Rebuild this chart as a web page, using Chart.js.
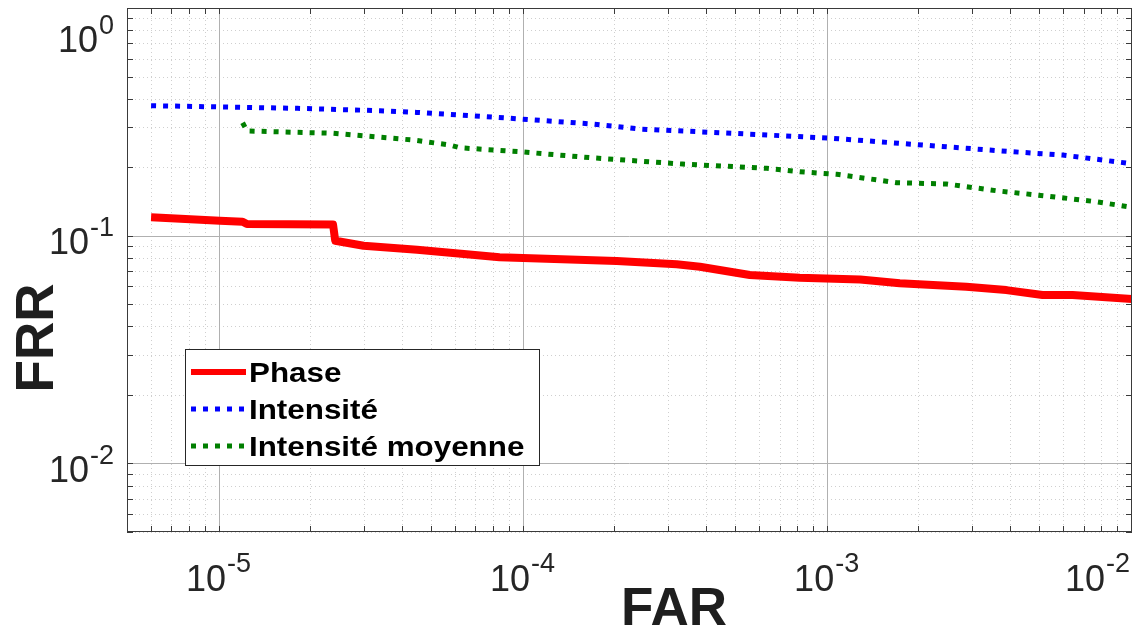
<!DOCTYPE html>
<html>
<head>
<meta charset="utf-8">
<script src="https://cdn.jsdelivr.net/npm/chart.js@4.4.0/dist/chart.umd.min.js"></script>
<style>html,body{margin:0;padding:0;background:#fff;}canvas{display:block;}</style>
</head>
<body>
<canvas id="c" width="1134" height="632"></canvas>
<script>
// ---- data ----
const seriesLabels = ['Phase', 'Intensité', 'Intensité moyenne'];

const phaseFAR = [6.0e-6, 1.01e-5, 1.20e-5, 1.24e-5, 2.38e-5, 2.42e-5, 3.0e-5, 4.5e-5, 8.4e-5, 2.04e-4, 3.21e-4, 3.83e-4, 5.59e-4, 8.16e-4, 1.29e-3, 1.74e-3, 2.88e-3, 3.90e-3, 5.13e-3, 6.44e-3, 1.01e-2];
const phaseFRR = [0.1204, 0.1164, 0.1152, 0.1125, 0.1120, 0.0951, 0.0904, 0.0868, 0.0804, 0.0774, 0.0749, 0.0731, 0.0672, 0.0654, 0.0643, 0.0618, 0.0597, 0.0577, 0.0549, 0.0549, 0.0527];

const intFAR = [6.0e-6, 1.82e-5, 3.40e-5, 4.48e-5, 9.08e-5, 1.70e-4, 2.43e-4, 4.91e-4, 1.047e-3, 1.92e-3, 4.09e-3, 5.97e-3, 7.73e-3, 1.01e-2];
const intFRR = [0.3724, 0.3626, 0.354, 0.348, 0.328, 0.3094, 0.294, 0.2817, 0.2678, 0.252, 0.2338, 0.2261, 0.2166, 0.207];

const moyFAR = [1.20e-5, 1.24e-5, 2.38e-5, 4.36e-5, 5.77e-5, 6.22e-5, 9.8e-5, 1.664e-4, 3.36e-4, 6.35e-4, 8.16e-4, 1.08e-3, 1.70e-3, 2.48e-3, 3.62e-3, 5.29e-3, 7.72e-3, 1.01e-2];
const moyFRR = [0.3135, 0.2884, 0.2818, 0.2632, 0.2502, 0.2434, 0.2338, 0.2202, 0.2064, 0.1977, 0.1910, 0.1861, 0.1709, 0.1687, 0.1576, 0.1494, 0.1410, 0.1332];

const xRange = [5e-6, 0.0101];
const yRange = [0.005, 1];
const xMajorTicks = [1e-5, 1e-4, 1e-3, 1e-2];
const xTickExponents = ['-5', '-4', '-3', '-2'];
const yMajorTicks = [1e-2, 1e-1, 1];
const yTickExponents = ['-2', '-1', '0'];
const xAxisTitle = 'FAR';
const yAxisTitle = 'FRR';

// ---- helpers ----
const FONT = '"Liberation Sans", Arial, Helvetica, sans-serif';
const pairs = (xs, ys) => xs.map((v, i) => ({ x: v, y: ys[i] }));

function logTicks(min, max) {
  const out = [];
  for (let e = Math.floor(Math.log10(min)); e <= Math.ceil(Math.log10(max)); e++) {
    for (let m = 1; m < 10; m++) {
      const v = m * Math.pow(10, e);
      if (v >= min * 0.9999 && v <= max * 1.0001) out.push({ v, major: m === 1 });
    }
  }
  return out;
}

function seg(ctx, x1, y1, x2, y2) {
  ctx.beginPath(); ctx.moveTo(x1, y1); ctx.lineTo(x2, y2); ctx.stroke();
}

const datasetStyles = [
  { borderColor: '#ff0000', borderWidth: 8, borderDash: [], borderCapStyle: 'butt', borderJoinStyle: 'round' },
  { borderColor: '#0000ff', borderWidth: 5, borderDash: [5, 7], borderCapStyle: 'butt', borderJoinStyle: 'miter' },
  { borderColor: '#007f00', borderWidth: 5, borderDash: [5, 7], borderCapStyle: 'butt', borderJoinStyle: 'miter' }
];

const axesPlugin = {
  id: 'matlabAxes',
  beforeDatasetsDraw(chart) {
    const { ctx, chartArea: a, scales: { x, y } } = chart;
    ctx.save();
    ctx.lineWidth = 1;
    // minor grid (dotted)
    ctx.strokeStyle = '#cfcfcf';
    ctx.setLineDash([1, 3]);
    for (const t of logTicks(x.min, x.max)) if (!t.major) {
      const p = Math.round(x.getPixelForValue(t.v)) + 0.5; seg(ctx, p, a.top, p, a.bottom);
    }
    for (const t of logTicks(y.min, y.max)) if (!t.major) {
      const p = Math.round(y.getPixelForValue(t.v)) + 0.5; seg(ctx, a.left, p, a.right, p);
    }
    // major grid (solid)
    ctx.setLineDash([]);
    ctx.strokeStyle = '#b0b0b0';
    for (const v of xMajorTicks) {
      const p = Math.round(x.getPixelForValue(v)) + 0.5;
      if (p > a.left + 1 && p < a.right - 1) seg(ctx, p, a.top, p, a.bottom);
    }
    for (const v of yMajorTicks) {
      const p = Math.round(y.getPixelForValue(v)) + 0.5;
      if (p > a.top + 1 && p < a.bottom - 1) seg(ctx, a.left, p, a.right, p);
    }
    ctx.restore();
  },
  afterDatasetsDraw(chart) {
    const { ctx, chartArea: a, scales: { x, y } } = chart;
    ctx.save();
    // box
    ctx.strokeStyle = '#3a3a3a';
    ctx.lineWidth = 1;
    ctx.setLineDash([]);
    ctx.strokeRect(a.left + 0.5, a.top + 0.5, a.right - a.left - 1, a.bottom - a.top - 1);
    // inward ticks on all four sides
    const TL = 6;
    for (const t of logTicks(x.min, x.max)) {
      const p = Math.round(x.getPixelForValue(t.v)) + 0.5;
      seg(ctx, p, a.bottom, p, a.bottom - TL);
      seg(ctx, p, a.top, p, a.top + TL);
    }
    for (const t of logTicks(y.min, y.max)) {
      const p = Math.round(y.getPixelForValue(t.v)) + 0.5;
      seg(ctx, a.left, p, a.left + TL, p);
      seg(ctx, a.right, p, a.right - TL, p);
    }

    // tick labels: 10^n
    const baseFont = '36px ' + FONT;
    const supFont = '27px ' + FONT;
    ctx.fillStyle = '#262626';
    ctx.textBaseline = 'alphabetic';
    ctx.textAlign = 'left';
    const W = chart.width;
    xMajorTicks.forEach((v, i) => {
      const p = x.getPixelForValue(v);
      ctx.font = baseFont; const w10 = ctx.measureText('10').width;
      ctx.font = supFont; const we = ctx.measureText(xTickExponents[i]).width;
      const gw = w10 + 1 + we;
      let left = p - gw / 2;
      if (left + gw > W - 4) left = W - 4 - gw;
      ctx.font = baseFont; ctx.fillText('10', left, a.bottom + 59);
      ctx.font = supFont; ctx.fillText(xTickExponents[i], left + w10 + 1, a.bottom + 40);
    });
    yMajorTicks.forEach((v, i) => {
      const p = y.getPixelForValue(v);
      ctx.font = baseFont; const w10 = ctx.measureText('10').width;
      ctx.font = supFont; const we = ctx.measureText(yTickExponents[i]).width;
      const right = a.left - 13;
      const base = Math.max(p + 18.5, a.top + 44);
      ctx.font = supFont; ctx.fillText(yTickExponents[i], right - we, base - 18);
      ctx.font = baseFont; ctx.fillText('10', right - we - 1 - w10, base);
    });

    // axis titles
    ctx.fillStyle = '#1e1e1e';
    ctx.font = 'bold 53px ' + FONT;
    ctx.textAlign = 'center';
    ctx.fillText(xAxisTitle, 674, 625);
    ctx.save();
    ctx.translate(53, 338);
    ctx.rotate(-Math.PI / 2);
    ctx.fillText(yAxisTitle, 0, 0);
    ctx.restore();

    // legend (inside the axes)
    const lx = 185, ly = 349, lw = 354, lh = 116;
    ctx.fillStyle = '#ffffff';
    ctx.fillRect(lx, ly, lw, lh);
    ctx.strokeStyle = '#262626';
    ctx.lineWidth = 1;
    ctx.strokeRect(lx + 0.5, ly + 0.5, lw, lh);
    chart.data.datasets.forEach((ds, i) => {
      const ry = 372 + i * 37;
      ctx.save();
      ctx.strokeStyle = ds.borderColor;
      ctx.lineWidth = i === 0 ? 6 : 5;
      ctx.setLineDash(ds.borderDash || []);
      ctx.lineCap = 'butt';
      seg(ctx, 191, ry, 246, ry);
      ctx.restore();
      ctx.save();
      ctx.fillStyle = '#000000';
      ctx.font = 'bold 28px ' + FONT;
      ctx.textAlign = 'left';
      ctx.translate(249, ry + 9.5);
      ctx.scale(1.12, 1);
      ctx.fillText(ds.label, 0, 0);
      ctx.restore();
    });
    ctx.restore();
  }
};

const datasets = [
  pairs(phaseFAR, phaseFRR),
  pairs(intFAR, intFRR),
  pairs(moyFAR, moyFRR)
].map((d, i) => Object.assign({
  label: seriesLabels[i],
  data: d,
  pointRadius: 0,
  tension: 0,
  fill: false
}, datasetStyles[i]));

new Chart(document.getElementById('c'), {
  type: 'line',
  data: { datasets },
  options: {
    responsive: false,
    devicePixelRatio: 1,
    animation: false,
    layout: { padding: { left: 127, top: 8, right: 2, bottom: 100 } },
    plugins: { legend: { display: false }, tooltip: { enabled: false } },
    scales: {
      x: { type: 'logarithmic', min: xRange[0], max: xRange[1], display: false },
      y: { type: 'logarithmic', min: yRange[0], max: yRange[1], display: false }
    }
  },
  plugins: [axesPlugin]
});
</script>
</body>
</html>
